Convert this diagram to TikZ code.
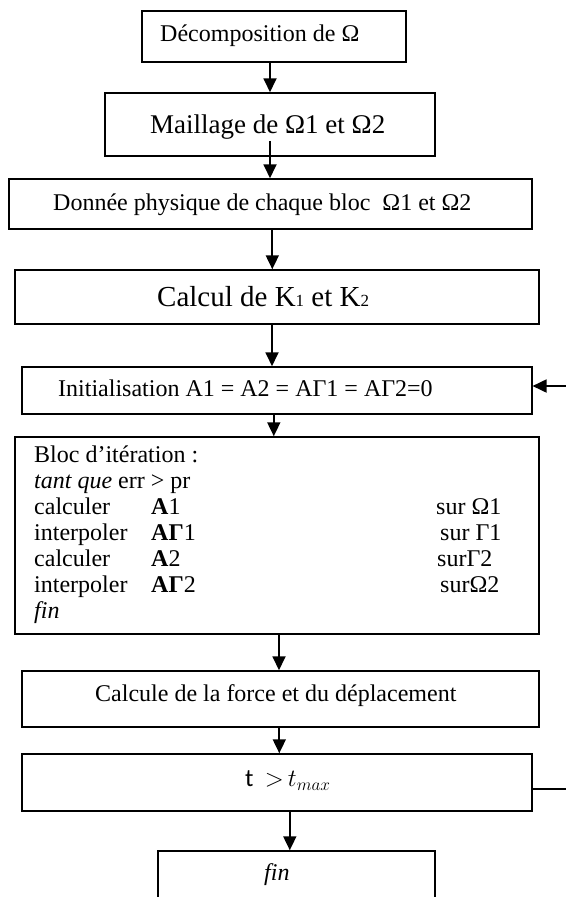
\documentclass[tikz,border=0pt]{standalone}
\usepackage{fontspec}
\setmainfont{Liberation Serif}
\newfontfamily\calibri{Carlito}
\usetikzlibrary{arrows.meta}
\begin{document}
\begin{tikzpicture}[x=1pt,y=-1pt,
  box/.style={draw, line width=1.5pt, inner sep=0pt},
  arr/.style={line width=1.8pt, -{Triangle[length=14pt,width=13pt]}},
  lbl/.style={inner sep=0pt, anchor=base west, font=\fontsize{24}{28}\selectfont},
]
\useasboundingbox (0,0) rectangle (565,897);
% boxes
\node[box, minimum width=264pt, minimum height=51pt] (b1) at (274,36.5) {};
\node[box, minimum width=330pt, minimum height=63pt] (b2) at (270,124.5) {};
\node[box, minimum width=523pt, minimum height=50pt] (b3) at (270.3,204) {};
\node[box, minimum width=524pt, minimum height=54pt] (b4) at (277,297) {};
\node[box, minimum width=510pt, minimum height=47pt] (b5) at (276.8,390.5) {};
\node[box, minimum width=524pt, minimum height=197pt] (b6) at (277,535.5) {};
\node[box, minimum width=517pt, minimum height=56pt] (b7) at (280.3,699) {};
\node[box, minimum width=510pt, minimum height=57pt] (b8) at (276.8,782.5) {};
\node[box, minimum width=277pt, minimum height=69pt] (b9) at (296.5,885.5) {};
% texts
\node[lbl] (t1) at (160,41.5) {Décomposition de Ω};
\node[lbl, font=\fontsize{27}{30}\selectfont] (t2) at (150,133) {Maillage de Ω1 et Ω2};
\node[lbl] (t3) at (53,210) {Donnée physique de chaque bloc \ Ω1 et Ω2};
\node[lbl, font=\fontsize{29}{32}\selectfont] (t4) at (157,306.7) {Calcul de K{\fontsize{17}{17}\selectfont 1} et K{\fontsize{17}{17}\selectfont 2}};
\node[lbl] (t5) at (58,396.7) {Initialisation A1 = A2 = AΓ1 = AΓ2=0};
% iteration block
\node[lbl] (l1) at (34,462) {Bloc d’itération :};
\node[lbl] (l2) at (34,488) {\textit{tant que} err > pr};
\node[lbl] (l3a) at (34,514) {calculer};
\node[lbl] (l3b) at (151,514) {\textbf{A}1};
\node[lbl] (l3c) at (436,514) {sur Ω1};
\node[lbl] (l4a) at (34,540) {interpoler};
\node[lbl] (l4b) at (151,540) {\textbf{AΓ}1};
\node[lbl] (l4c) at (440,540) {sur Γ1};
\node[lbl] (l5a) at (34,566) {calculer};
\node[lbl] (l5b) at (151,566) {\textbf{A}2};
\node[lbl] (l5c) at (437,566) {surΓ2};
\node[lbl] (l6a) at (34,592) {interpoler};
\node[lbl] (l6b) at (151,592) {\textbf{AΓ}2};
\node[lbl] (l6c) at (440,592) {surΩ2};
\node[lbl] (l7) at (34,618) {\textit{fin}};
\node[lbl] (t7) at (95,701.5) {Calcule de la force et du déplacement};
\node[lbl, font=\fontsize{25}{29}\selectfont] (t8) at (245,786.7) {{\calibri t\ \ }$\mathord{>}\,t_{max}$};
\node[lbl] (t9) at (264,880) {\textit{fin}};
% connectors
\draw[arr] ([xshift=-4pt]b1.south) -- ([xshift=-4pt]b1.south |- b2.north);
\draw[arr] ([yshift=16pt]b2.south) -- (b2.south |- b3.north);
\draw[arr] ([xshift=2pt]b3.south) -- ([xshift=2pt]b3.south |- b4.north);
\draw[arr] ([xshift=-5pt]b4.south) -- ([xshift=-5pt]b4.south |- b5.north);
\draw[arr] ([xshift=-3pt]b5.south) -- ([xshift=-3pt]b5.south |- b6.north);
\draw[arr] ([xshift=2pt]b6.south) -- ([xshift=2pt]b6.south |- b7.north);
\draw[arr] ([xshift=-1pt]b7.south) -- ([xshift=-1pt]b7.south |- b8.north);
\draw[arr] ([xshift=13pt]b8.south) -- ([xshift=13pt]b8.south |- b9.north);
\draw[arr] ([yshift=-6.5pt]b8.east) -- ++(60,0) |- ([yshift=4.5pt]b5.east);
\end{tikzpicture}
\end{document}
